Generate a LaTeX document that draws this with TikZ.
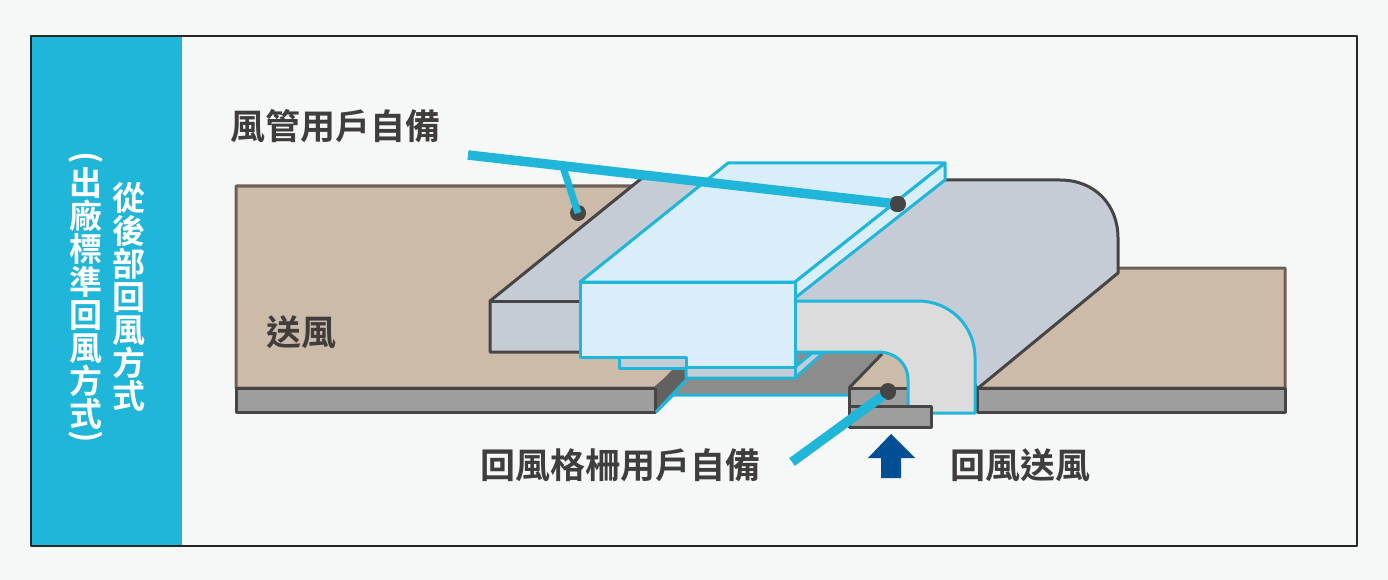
\documentclass[tikz,border=0pt]{standalone}
\usepackage{fontspec}
\newfontfamily\cjk{Noto Sans CJK TC}[BoldFont={Noto Sans CJK TC Bold}]
\usepackage{tikz}
\usetikzlibrary{calc,positioning}
\definecolor{pagebg}{HTML}{F6F8F8}
\definecolor{sky}{HTML}{1FB6D9}
\definecolor{unitfill}{HTML}{D9EEF8}
\definecolor{ductfill}{HTML}{C6CCD5}
\definecolor{elbowfill}{HTML}{DCDCDC}
\definecolor{slabfill}{HTML}{CDBBAA}
\definecolor{slabline}{HTML}{6E5F58}
\definecolor{concrete}{HTML}{9E9E9E}
\definecolor{shadow}{HTML}{8C8C8C}
\definecolor{inkdark}{HTML}{474444}
\definecolor{arrowblue}{HTML}{004F94}

\begin{document}
\begin{tikzpicture}[x=1pt,y=-1pt,line join=round,
  ele/.style={fill=inkdark,circle,minimum width=16pt,inner sep=0pt},
  lbl/.style={font=\cjk\bfseries\fontsize{35}{35}\selectfont,text=inkdark!90!black,inner sep=0pt},
  side/.style={font=\cjk\bfseries\fontsize{33}{33}\selectfont,text=white,inner sep=0pt,align=center},
  pointer/.style={draw=sky,line width=9.5pt},
  brownpart/.style={fill=slabfill,draw=slabline,line width=3pt},
  graypart/.style={fill=concrete,draw=inkdark,line width=3pt},
  ductpart/.style={fill=ductfill,draw=inkdark,line width=3pt},
  unitpart/.style={fill=unitfill,draw=sky,line width=3pt},
  lowpart/.style={fill=ductfill,draw=sky,line width=3pt}]
  \useasboundingbox (0,0) rectangle (1388,580);
  \fill[pagebg] (0,0) rectangle (1388,580);

  % frame and side band
  \fill[sky] (31,36) rectangle (182,546);
  \draw[black!85,line width=2.5pt] (31,36) rectangle (1357,546);
  \node[side] (sidea) at (129,297) {從\\後\\部\\回\\風\\方\\式};
  \node[side] (sideb) at (86,298) {出\\廠\\標\\準\\回\\風\\方\\式};
  \node[side] (parena) at (86,158) {\rotatebox{-90}{(}};
  \node[side] (parenb) at (86,437) {\rotatebox{-90}{)}};

  % floor slabs
  \draw[brownpart] (640,186) -- (236,186) -- (236,388) -- (655,388) -- (700,350) -- cycle;
  \draw[brownpart] (1118,268) -- (1285,268) -- (1285,388) -- (977,388) -- cycle;
  \draw[graypart] (236,388) rectangle (655,412);
  \draw[graypart] (977,388) rectangle (1285,412);

  % hanging duct
  \draw[ductpart] (490,301) -- (642,178) -- (705,183) -- (730,180) -- (1060,180)
    .. controls (1095,180) and (1118,205) .. (1118,238)
    -- (1118,273) -- (977,389) -- (960,352) -- (490,352) -- cycle;
  \draw[inkdark,line width=3pt] (490,301) -- (580,301);

  % opening under the unit
  \fill[shadow] (672,395) -- (695,352) -- (882,352) -- (849,388) -- (849,395) -- cycle;
  \draw[sky,line width=3pt] (656,412) -- (673,395) -- (849,395);
  \fill[inkdark!85] (655,388) -- (672,370) -- (686,370) -- (686,380) -- (656,412) -- cycle;
  \draw[inkdark,line width=3pt] (655,388) -- (655,412);
  \draw[sky,line width=3pt] (656,412) -- (686,380);

  % return elbow
  \fill[slabfill] (849,388) -- (882,353) -- (908,353) -- (908,388) -- cycle;
  \draw[inkdark,line width=3pt] (849,388) -- (882,354);
  \draw[graypart] (849,388) rectangle (908,406);
  \draw[fill=elbowfill,draw=sky,line width=3pt] (795,301) -- (918,301)
    .. controls (950,301) and (975,326) .. (975,358)
    -- (975,413) -- (908,413) -- (908,380)
    .. controls (908,363) and (895,352) .. (878,352) -- (795,352);
  \draw[graypart] (849,406) rectangle (931,427);

  % indoor unit
  \draw[lowpart] (619,357) rectangle (686,368);
  \draw[lowpart] (686,367) -- (795,367) -- (812,353) -- (823,353) -- (795,378) -- (686,378) -- cycle;
  \draw[sky,line width=3pt] (795,378) -- (795,367);
  \draw[unitpart] (580,282) -- (728,163) -- (945,163) -- (795,282) -- cycle;
  \draw[unitpart] (795,282) -- (945,163) -- (945,180) -- (795,298) -- cycle;
  \draw[unitpart] (580,282) -- (795,282) -- (795,367) -- (686,367) -- (686,357) -- (580,357) -- cycle;

  % pointers
  \node[ele] (dotunit) at (897,204) {};
  \node[ele] (dotslab) at (578,213) {};
  \node[ele] (dotgrille) at (888,392) {};
  \coordinate (ptra) at (468,155);
  \coordinate (ptrb) at (563,167);
  \coordinate (ptrc) at (792,462);
  \draw[pointer] (ptra) -- (dotunit.center);
  \draw[pointer,line width=7pt] (ptrb) -- (dotslab.center);
  \draw[pointer] (ptrc) -- (dotgrille.center);
  \fill[inkdark] (dotunit.center) ++(1,0) circle (8);
  \fill[inkdark] (dotgrille.center) ++(0,-1) circle (8);

  % blue arrow
  \fill[arrowblue] (891,434) -- (915,458) -- (901,458) -- (901,478) -- (881,478) -- (881,458) -- (868,458) -- cycle;

  % labels
  \node[lbl] (lbla) at (335,126) {風管用戶自備};
  \node[lbl] (lblb) at (301,332) {送風};
  \node[lbl] (lblc) at (620,465) {回風格柵用戶自備};
  \node[lbl] (lbld) at (1020,465) {回風送風};
\end{tikzpicture}
\end{document}
